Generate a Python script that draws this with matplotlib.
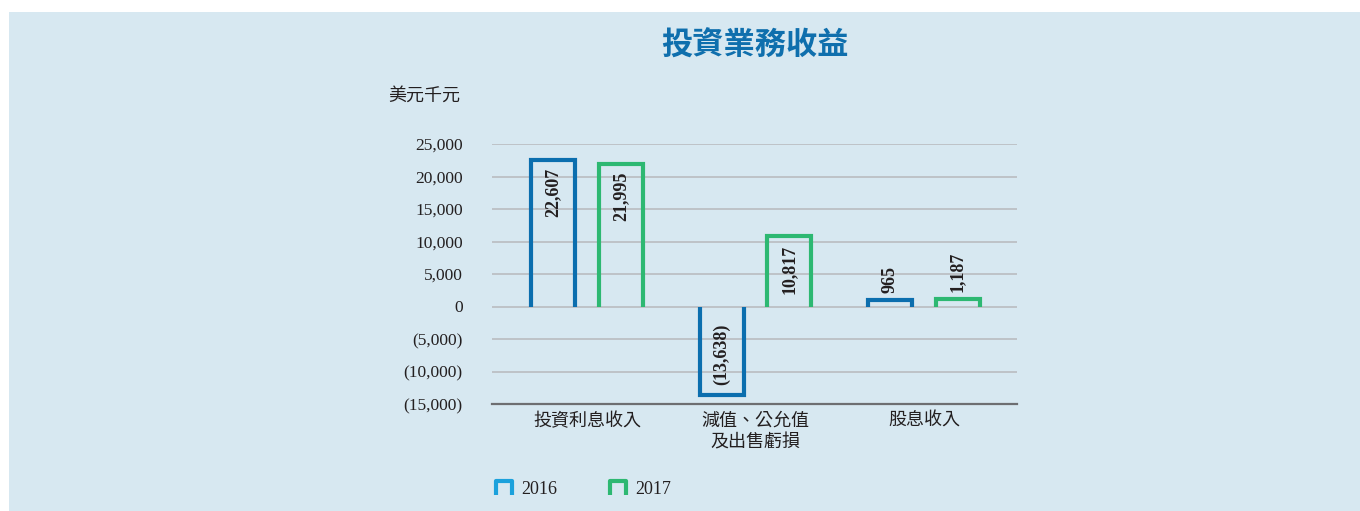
import matplotlib.pyplot as plt
from matplotlib.path import Path
from matplotlib.lines import Line2D
from matplotlib.patches import Rectangle

# data
categories = ['投資利息收入', '減值、公允值\n及出售虧損', '股息收入']
values_2016 = [22607, -13638, 965]
values_2017 = [21995, 10817, 1187]
years = ['2016', '2017']
y_ticks = [-15000, -10000, -5000, 0, 5000, 10000, 15000, 20000, 25000]
y_tick_labels = ['(15,000)', '(10,000)', '(5,000)', '0', '5,000', '10,000',
                 '15,000', '20,000', '25,000']

BG = '#d7e8f1'
BLUE = '#0b6eae'
GREEN = '#2db872'
LEGEND_BLUE = '#1ba1dc'
FONTS = ['Liberation Serif', 'Noto Sans CJK TC', 'DejaVu Sans']
plt.rcParams['font.family'] = FONTS


def fmt(v):
    s = '{:,}'.format(abs(v))
    return '(' + s + ')' if v < 0 else s


fig = plt.figure(figsize=(13.6, 5.11), dpi=100, facecolor='white')
fig.add_artist(Rectangle((9 / 1360, 0), 1, 1 - 12 / 511, transform=fig.transFigure,
                         facecolor=BG, edgecolor='none', zorder=0))

ax = fig.add_axes([492 / 1360, 1 - 404 / 511, 525 / 1360, 260 / 511])
ax.set_facecolor(BG)
ax.patch.set_alpha(0)

half = 0.13
offset = 0.2
for i in range(len(categories)):
    for vals, dx, col in ((values_2016, -offset, BLUE), (values_2017, offset, GREEN)):
        v = vals[i]
        x0, x1 = i + dx - half, i + dx + half
        ax.plot([x0, x0, x1, x1], [0, v, v, 0], color=col, lw=3,
                solid_joinstyle='miter', solid_capstyle='butt', zorder=3)
        if abs(v) > 5000:
            if v > 0:
                ax.annotate(fmt(v), (i + dx, v), xytext=(0, -6), textcoords='offset points',
                            rotation=90, ha='center', va='top', fontsize=13,
                            fontweight='bold', color='#231f20', zorder=4)
            else:
                ax.annotate(fmt(v), (i + dx, v), xytext=(0, 7), textcoords='offset points',
                            rotation=90, ha='center', va='bottom', fontsize=13,
                            fontweight='bold', color='#231f20', zorder=4)
        else:
            ax.annotate(fmt(v), (i + dx, v), xytext=(0, 5), textcoords='offset points',
                        rotation=90, ha='center', va='bottom', fontsize=13,
                        fontweight='bold', color='#231f20', zorder=4)

ax.set_xlim(-0.564, 2.552)
ax.set_ylim(-15000, 25000)
ax.set_yticks(y_ticks)
ax.set_yticklabels(y_tick_labels)
ax.set_xticks(range(len(categories)))
ax.set_xticklabels(categories, linespacing=1.4)
ax.tick_params(axis='y', length=0, pad=21, labelsize=12.5, labelcolor='#231f20')
ax.tick_params(axis='x', length=0, pad=6, labelsize=13, labelcolor='#231f20')
for t in y_ticks[1:]:
    ax.axhline(t, color='#bcc0c4', lw=1.3, zorder=1)
for s in ['top', 'right', 'left']:
    ax.spines[s].set_visible(False)
ax.spines['bottom'].set_color('#6d6e71')
ax.spines['bottom'].set_linewidth(1.6)

fig.text(755 / 1360, 1 - 47 / 511, '投資業務收益', ha='center', va='center',
         fontsize=22.5, fontweight='bold', color='#0f6fad')
fig.text(388 / 1360, 1 - 96 / 511, '美元千元', ha='left', va='center',
         fontsize=13, color='#231f20')

icon = Path([(-1, -0.9), (-1, 0.9), (1, 0.9), (1, -0.9)],
            [Path.MOVETO, Path.LINETO, Path.LINETO, Path.LINETO])
handles = [Line2D([], [], ls='none', marker=icon, markersize=11.5, mew=3,
                  markeredgecolor=c, markerfacecolor='none')
           for c in (LEGEND_BLUE, GREEN)]
fig.legend(handles, years, loc='center left', bbox_to_anchor=(486 / 1360, 1 - 490 / 511),
           ncol=2, frameon=False, fontsize=13, handlelength=1.0, handletextpad=0.45,
           columnspacing=2.85, borderpad=0, labelcolor='#231f20')

fig.savefig('out.png', dpi=100, facecolor='white')
